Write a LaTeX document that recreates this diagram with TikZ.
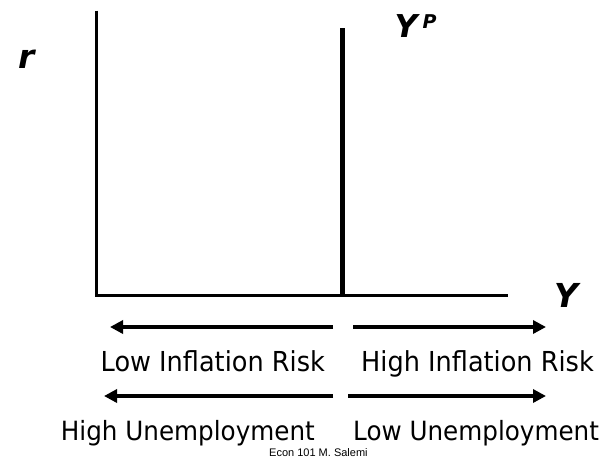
\documentclass[tikz,border=0pt]{standalone}
\usepackage{fontspec}
\setmainfont{DejaVu Sans}
\newfontfamily\notefont{Liberation Sans}
\usepackage{tikz}
\usetikzlibrary{arrows.meta,positioning,calc}

\begin{document}
\begin{tikzpicture}[x=1pt, y=-1pt, >={Triangle[length=13pt,width=13pt]}]
    \useasboundingbox (0,0) rectangle (616,461);
    \def\inflabel#1{\scalebox{0.93}[1]{\fontsize{27.5}{32}\selectfont #1}}
    \def\emplabel#1{\scalebox{0.93}[1]{\fontsize{26.5}{32}\selectfont #1}}
    % axes and potential output
    \coordinate (origin) at (96,295);
    \coordinate (rtop) at (96,10.5);
    \coordinate (yend) at (508,295);
    \coordinate (ptop) at (342.5,28);
    \coordinate (pbase) at (342.5,295);
    \draw[line width=3pt] (rtop) -- (origin) -- (yend);
    \draw[line width=5pt] (ptop) -- (pbase);
    \node[anchor=base, inner sep=0pt] (rlab) at (27,68) {\fontsize{33}{36}\selectfont\bfseries\itshape r};
    \node[anchor=base, inner sep=0pt] (ylab) at (566,307) {\fontsize{33}{36}\selectfont\bfseries\itshape Y};
    \node[anchor=base, inner sep=0pt] (yplab) at (406,37) {\fontsize{31.5}{34}\selectfont\bfseries\itshape Y};
    \node[anchor=base west, inner sep=0pt] (pmark) at (422.5,28.5) {\fontsize{19}{22}\selectfont\bfseries\itshape P};
    % arrows below the axis
    \coordinate (infL) at (333,327);
    \coordinate (infLtip) at (110,327);
    \coordinate (infR) at (353,327);
    \coordinate (infRtip) at (546,327);
    \coordinate (empL) at (333,396);
    \coordinate (empLtip) at (104,396);
    \coordinate (empR) at (348,396);
    \coordinate (empRtip) at (546,396);
    \draw[->, line width=4pt] (infL) -- (infLtip);
    \draw[->, line width=4pt] (infR) -- (infRtip);
    \draw[->, line width=4pt] (empL) -- (empLtip);
    \draw[->, line width=4pt] (empR) -- (empRtip);
    % labels
    \node[anchor=base west, inner sep=0pt] (lowinf) at (100.5,371.5) {\inflabel{Low Inflation Risk}};
    \node[anchor=base east, inner sep=0pt] (highinf) at (594,371.5) {\inflabel{High Inflation Risk}};
    \node[anchor=base east, inner sep=0pt] (highemp) at (315,440) {\emplabel{High Unemployment}};
    \node[anchor=base west, inner sep=0pt] (lowemp) at (353,440) {\emplabel{Low Unemployment}};
    \node[anchor=base west, inner sep=0pt] (credit) at (269,456.5) {\notefont\fontsize{11}{12}\selectfont Econ 101 M. Salemi};
\end{tikzpicture}
\end{document}
